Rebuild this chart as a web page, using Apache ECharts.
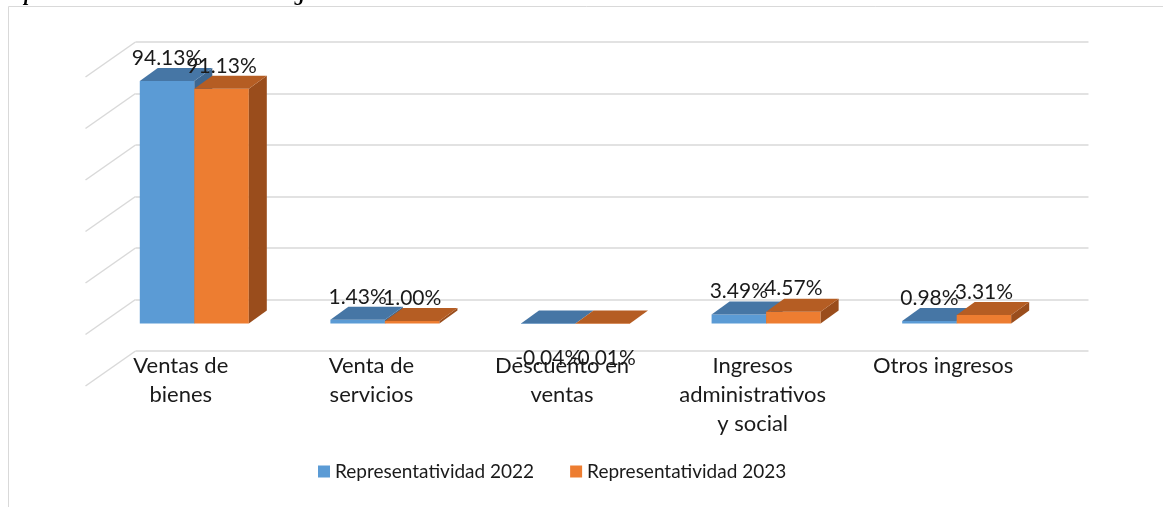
<!DOCTYPE html>
<html>
<head>
<meta charset="utf-8">
<script src="https://cdn.jsdelivr.net/npm/echarts@6/dist/echarts.min.js"></script>
<style>
html, body { margin: 0; padding: 0; background: #fff; }
#chart { width: 1163px; height: 507px; }
</style>
</head>
<body>
<div id="chart"></div>
<script>
const categories = ['Ventas de\nbienes', 'Venta de\nservicios', 'Descuento en\nventas', 'Ingresos\nadministrativos\ny social', 'Otros ingresos']
const rep2022 = [94.13, 1.43, -0.04, 3.49, 0.98]
const rep2023 = [91.13, 1.00, -0.01, 4.57, 3.31]
const wallTicks = [-20, 0, 20, 40, 60, 80, 100]
const seriesNames = ['Representatividad 2022', 'Representatividad 2023']
const titleText = 'Representatividad del total de los ingresos 2022 - 2023'

// fake 3d: offsets of the bar back face and of the wall
const DEPTH_X = 18
const DEPTH_Y = -13
const WALL_DX = 50
const WALL_DY = 35
const BAR_FRAC = 0.286
const FONT = 'Lato'

const palette = [
  { front: '#5b9bd5', top: '#4676a5', side: '#3d6791' },
  { front: '#ed7d31', top: '#b55d23', side: '#9a4d1c' }
]

function barBox(api, i, v, k) {
  const band = api.size([1, 0])[0]
  const w = band * BAR_FRAC
  const base = api.coord([i, 0])
  const tip = api.coord([i, v])
  const x0 = base[0] - w + k * w
  return {
    x0,
    x1: x0 + w,
    yTop: Math.min(base[1], tip[1]),
    yBot: Math.max(base[1], tip[1])
  }
}

function barRenderer(k) {
  return function (params, api) {
    const b = barBox(api, api.value(0), api.value(1), k)
    const c = palette[k]
    return {
      type: 'group',
      children: [
        {
          type: 'rect',
          shape: { x: b.x0, y: b.yTop, width: b.x1 - b.x0, height: Math.max(b.yBot - b.yTop, 0.5) },
          style: { fill: c.front }
        },
        {
          type: 'polygon',
          shape: { points: [[b.x1, b.yTop], [b.x1 + DEPTH_X, b.yTop + DEPTH_Y], [b.x1 + DEPTH_X, b.yBot + DEPTH_Y], [b.x1, b.yBot]] },
          style: { fill: c.side }
        },
        {
          type: 'polygon',
          shape: { points: [[b.x0, b.yTop], [b.x1, b.yTop], [b.x1 + DEPTH_X, b.yTop + DEPTH_Y], [b.x0 + DEPTH_X, b.yTop + DEPTH_Y]] },
          style: { fill: c.top }
        }
      ]
    }
  }
}

function labelRenderer(params, api) {
  const v = api.value(1)
  const b = barBox(api, api.value(0), v, api.value(2))
  const y = v >= 0 ? b.yTop + DEPTH_Y - 10 : b.yBot + 35
  return {
    type: 'text',
    style: {
      x: (b.x0 + b.x1) / 2,
      y,
      text: v.toFixed(2) + '%',
      align: 'center',
      verticalAlign: 'middle',
      font: '21px ' + FONT,
      fill: '#1a1a1a'
    }
  }
}

function wallRenderer(params, api) {
  const y = api.coord([0, api.value(0)])[1]
  const x = params.coordSys.x
  return {
    type: 'line',
    shape: { x1: x, y1: y, x2: x - WALL_DX, y2: y + WALL_DY },
    style: { stroke: '#d9d9d9', lineWidth: 1.5 }
  }
}

const labelData = []
rep2022.forEach((v, i) => labelData.push([i, v, 0]))
rep2023.forEach((v, i) => labelData.push([i, v, 1]))

const valueAxis = (idx, showSplit) => ({
  type: 'value',
  gridIndex: idx,
  min: -20,
  max: 100,
  interval: 20,
  axisLine: { show: false },
  axisTick: { show: false },
  axisLabel: { show: false },
  splitLine: { show: showSplit, lineStyle: { color: '#d9d9d9', width: 1.5 } }
})

const catAxis = (idx, showLabel) => ({
  type: 'category',
  gridIndex: idx,
  data: categories,
  axisLine: { show: false },
  axisTick: { show: false },
  axisLabel: {
    show: showLabel,
    interval: 0,
    margin: 6,
    fontFamily: FONT,
    fontSize: 22,
    lineHeight: 29,
    color: '#1a1a1a'
  }
})

const chart = echarts.init(document.getElementById('chart'), null, { renderer: 'canvas' })

chart.setOption({
  animation: false,
  backgroundColor: '#fff',
  graphic: [
    {
      type: 'rect',
      z: -10,
      shape: { x: 8.5, y: 6.5, width: 1300, height: 700 },
      style: { fill: 'none', stroke: '#d9d9d9', lineWidth: 1 }
    },
    {
      type: 'text',
      style: {
        x: 2,
        y: 5,
        text: titleText,
        verticalAlign: 'bottom',
        font: 'italic bold 20px "Liberation Serif"',
        fill: '#000'
      }
    }
  ],
  grid: [
    { left: 135.5, top: 42, width: 953, height: 309 }, // back wall
    { left: 99, top: 66, width: 953, height: 309 },    // bar fronts
    { left: 85.5, top: 300, width: 953, height: 45 }   // front edge, labels
  ],
  xAxis: [catAxis(0, false), catAxis(1, false), catAxis(2, true)],
  yAxis: [valueAxis(0, true), valueAxis(1, false), valueAxis(2, false)],
  legend: {
    data: seriesNames,
    left: 318,
    top: 462,
    padding: 0,
    icon: 'rect',
    itemWidth: 12,
    itemHeight: 12,
    itemGap: 36,
    textStyle: { fontFamily: FONT, fontSize: 19, color: '#1a1a1a' }
  },
  series: [
    {
      name: 'wall',
      type: 'custom',
      xAxisIndex: 0,
      yAxisIndex: 0,
      silent: true,
      data: wallTicks,
      encode: { y: 0 },
      renderItem: wallRenderer
    },
    {
      name: seriesNames[0],
      type: 'custom',
      xAxisIndex: 1,
      yAxisIndex: 1,
      itemStyle: { color: palette[0].front },
      data: rep2022.map((v, i) => [i, v]),
      encode: { x: 0, y: 1 },
      renderItem: barRenderer(0)
    },
    {
      name: seriesNames[1],
      type: 'custom',
      xAxisIndex: 1,
      yAxisIndex: 1,
      itemStyle: { color: palette[1].front },
      data: rep2023.map((v, i) => [i, v]),
      encode: { x: 0, y: 1 },
      renderItem: barRenderer(1)
    },
    {
      name: 'labels',
      type: 'custom',
      xAxisIndex: 1,
      yAxisIndex: 1,
      z: 5,
      silent: true,
      data: labelData,
      encode: { x: 0, y: 1 },
      renderItem: labelRenderer
    }
  ]
})
</script>
</body>
</html>
